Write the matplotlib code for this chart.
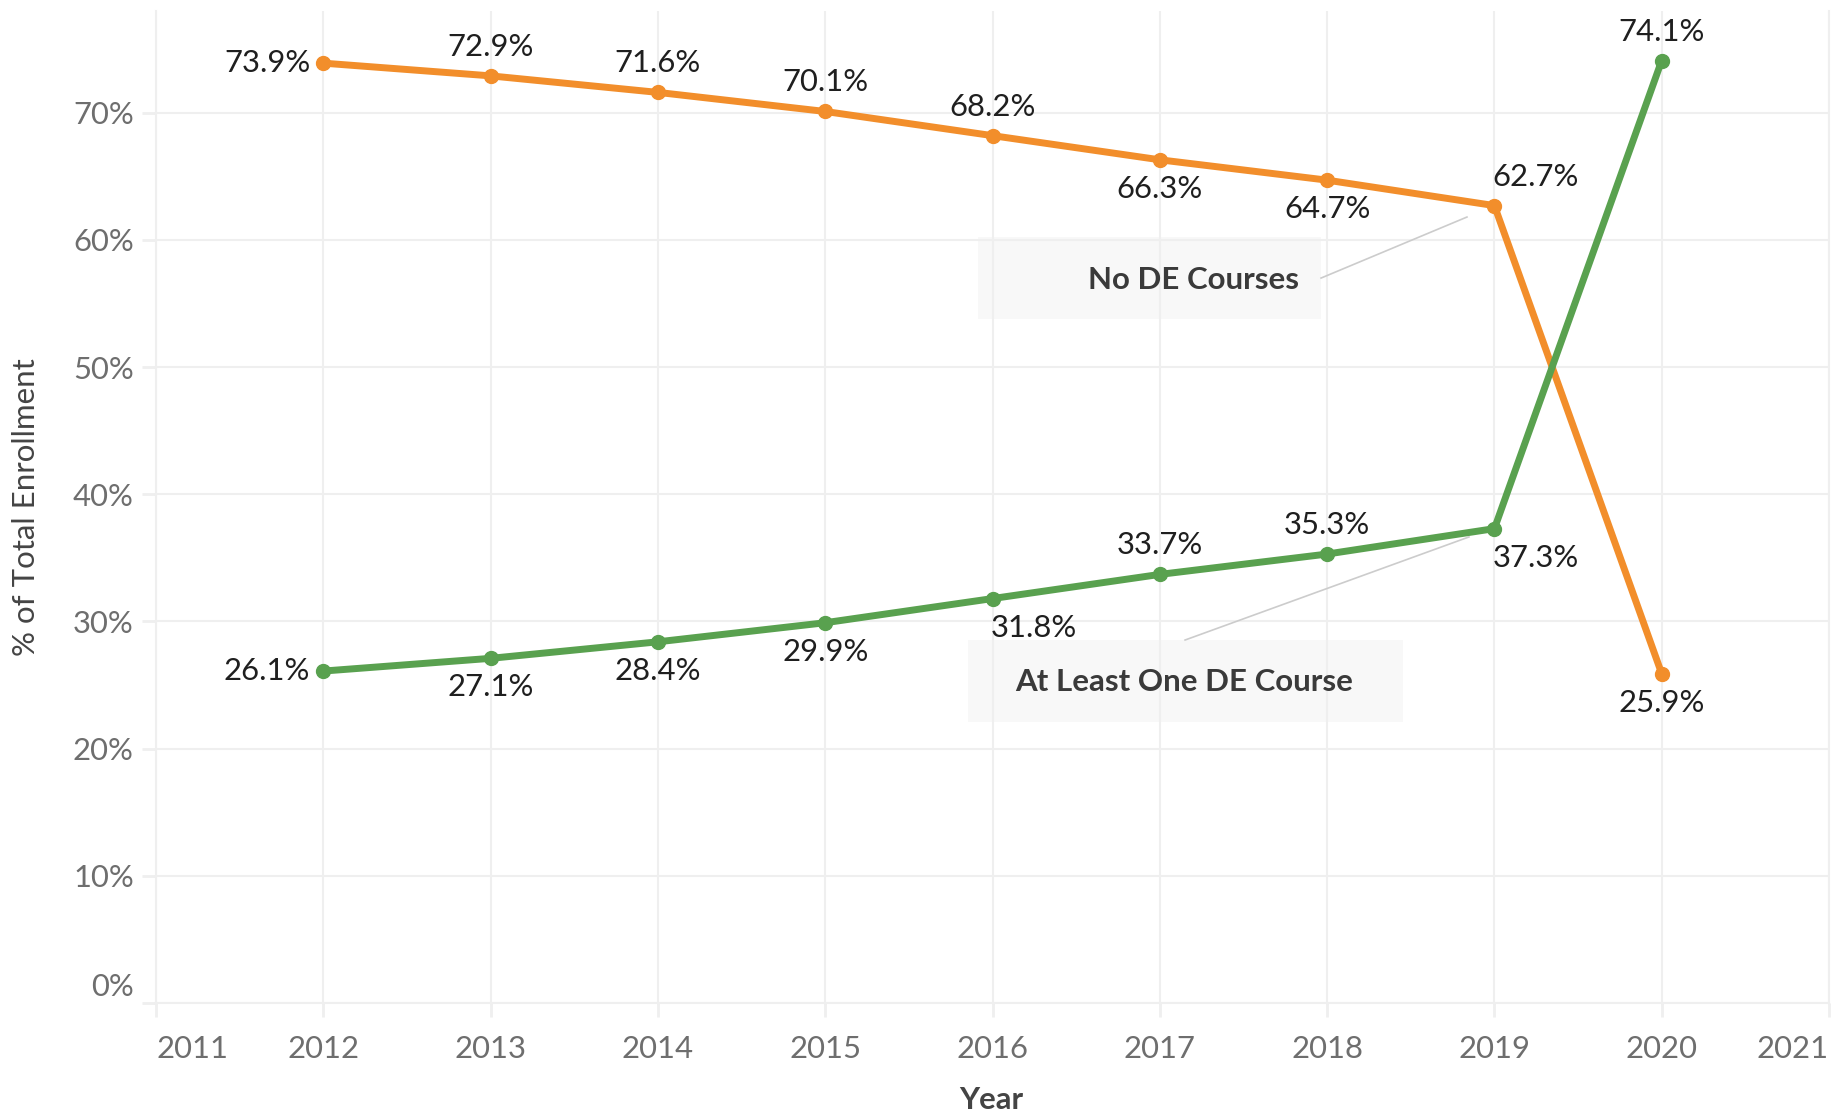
import matplotlib as mpl
import matplotlib.pyplot as plt
import matplotlib.transforms as mtransforms
from matplotlib.patches import Rectangle

mpl.rcParams['font.family'] = ['Lato', 'DejaVu Sans']

years = [2012, 2013, 2014, 2015, 2016, 2017, 2018, 2019, 2020]
no_de = [73.9, 72.9, 71.6, 70.1, 68.2, 66.3, 64.7, 62.7, 25.9]
one_de = [26.1, 27.1, 28.4, 29.9, 31.8, 33.7, 35.3, 37.3, 74.1]
xticks = list(range(2011, 2022))
yticks = [0, 10, 20, 30, 40, 50, 60, 70]

# where each value label sits relative to its point
no_de_pos = ['left', 'above', 'above', 'above', 'above', 'below', 'below', 'above_right', 'below']
one_de_pos = ['left', 'below', 'below', 'below', 'below_right', 'above', 'above', 'below_right', 'above']

orange = '#F28E2B'
green = '#59A14F'
grid_c = '#EFEFEF'

fig = plt.figure(figsize=(18.35, 11.16), dpi=100)
ax = fig.add_axes([156 / 1835, 113 / 1116, 1673 / 1835, 992 / 1116])

ax.plot(years, no_de, color=orange, lw=5, marker='o', markersize=10, zorder=3, solid_capstyle='round')
ax.plot(years, one_de, color=green, lw=5, marker='o', markersize=10, zorder=3, solid_capstyle='round')

offsets = {
    'left': (-13, 0, 'right', 'center'),
    'above': (0, 29, 'center', 'center'),
    'below': (0, -29, 'center', 'center'),
    'above_right': (-2, 29, 'left', 'center'),
    'below_right': (-2, -29, 'left', 'center'),
}
for vals, pos in [(no_de, no_de_pos), (one_de, one_de_pos)]:
    for x, v, p in zip(years, vals, pos):
        dx, dy, ha, va = offsets[p]
        ax.annotate(f"{v:.1f}%", (x, v), xytext=(dx, dy), textcoords='offset pixels',
                    ha=ha, va=va, fontsize=22.3, color='#1f1f1f', zorder=5)

ax.set_xlim(2011, 2021)
ax.set_ylim(0, 78)
ax.set_xticks(xticks)
ax.set_xticklabels([str(y) for y in xticks])
ax.set_yticks(yticks)
ax.set_yticklabels([f"{t}%" for t in yticks])
ax.tick_params(axis='both', colors=grid_c, length=10, width=2, labelsize=22.3, labelcolor='#6e6e6e')
ax.tick_params(axis='x', pad=13)
ax.tick_params(axis='y', pad=6)
xl = ax.get_xticklabels()
xl[0].set_ha('left')
xl[-1].set_ha('right')
# first y label sits above the baseline
yl0 = ax.get_yticklabels()[0]
yl0.set_transform(yl0.get_transform() + mtransforms.ScaledTranslation(0, 18 / 100, fig.dpi_scale_trans))

ax.grid(True, color=grid_c, lw=1.5, zorder=0)
for s in ['left', 'right', 'bottom']:
    ax.spines[s].set_color(grid_c)
    ax.spines[s].set_linewidth(1.5)
ax.spines['top'].set_visible(False)

# annotation boxes
ax.add_patch(Rectangle((0.4913, 0.6895), 0.2051, 0.0827, transform=ax.transAxes,
                       facecolor='#F8F8F8', edgecolor='none', zorder=1))
ax.text(0.6832, 0.7288, "No DE Courses", transform=ax.transAxes, ha='right', va='center',
        fontsize=22.5, fontweight='bold', color='#3a3a3a', zorder=2)
ax.plot([0.6964, 0.7836], [0.7308, 0.7923], transform=ax.transAxes, color='#CCCCCC', lw=1.2, zorder=2)

ax.add_patch(Rectangle((0.4854, 0.2833), 0.2600, 0.0826, transform=ax.transAxes,
                       facecolor='#F8F8F8', edgecolor='none', zorder=1))
ax.text(0.6145, 0.3236, "At Least One DE Course", transform=ax.transAxes, ha='center', va='center',
        fontsize=22.5, fontweight='bold', color='#3a3a3a', zorder=2)
ax.plot([0.6151, 0.7848], [0.3659, 0.4698], transform=ax.transAxes, color='#CCCCCC', lw=1.2, zorder=2)

fig.text(26 / 1835, 1 - 507 / 1116, "% of Total Enrollment", rotation=90, ha='center', va='center',
         fontsize=22.5, color='#444444')
fig.text(991 / 1835, 1 - 1100 / 1116, "Year", ha='center', va='center',
         fontsize=22.3, fontweight='bold', color='#444444')

fig.savefig("out.png", dpi=100)
